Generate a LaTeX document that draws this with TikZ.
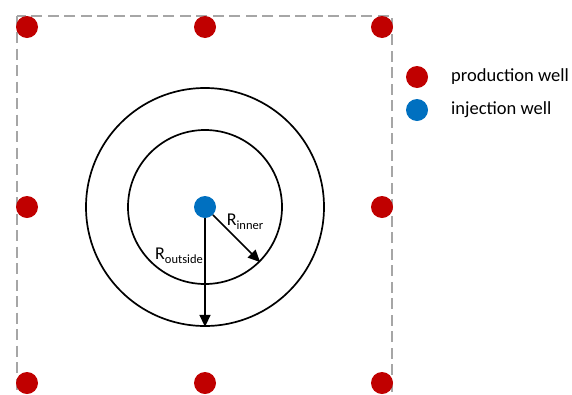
\documentclass[tikz,border=0pt]{standalone}
\usepackage{fontspec}
\setmainfont{Carlito}
\usetikzlibrary{arrows.meta}
\definecolor{prodred}{HTML}{C00000}
\definecolor{injblue}{HTML}{0070C0}
\definecolor{boundgray}{HTML}{A6A6A6}
\tikzset{
  prodwell/.style={circle, fill=prodred, inner sep=0pt, minimum size=22pt},
  injwell/.style={circle, fill=injblue, inner sep=0pt, minimum size=22pt},
  ring/.style={circle, draw=black, line width=1.7pt, inner sep=0pt},
  radius arrow/.style={line width=1.5pt, -{Triangle[length=12pt, width=11pt]}},
  legendtext/.style={anchor=west, inner sep=0pt, font=\fontsize{18.5}{20}\selectfont},
  rlabel/.style={inner sep=0pt, font=\fontsize{18}{20}\selectfont}
}
\newcommand{\subtxt}[1]{\raisebox{-4pt}{\fontsize{12.5}{13}\selectfont #1}}
\begin{document}
\begin{tikzpicture}[x=1pt, y=-1pt]
  \clip (0,0) rectangle (572,394);
  % pattern boundary
  \draw[boundgray, line width=2pt, dash pattern=on 11pt off 5.5pt] (16.5,15.5) rectangle (392,420);
  % production wells on the boundary
  \node[prodwell] (p1) at (27,27) {};
  \node[prodwell] (p2) at (205,27) {};
  \node[prodwell] (p3) at (382,27) {};
  \node[prodwell] (p4) at (27,207) {};
  \node[prodwell] (p5) at (382,207) {};
  \node[prodwell] (p6) at (27,383) {};
  \node[prodwell] (p7) at (205,383) {};
  \node[prodwell] (p8) at (382,383) {};
  % radii around the injector
  \node[ring, minimum size=238pt] (outer) at (205,207) {};
  \node[ring, minimum size=154pt] (inner) at (205,207) {};
  \node[injwell] (inj) at (205,207) {};
  \draw[radius arrow] (inj) -- (inner.south east);
  \draw[radius arrow] (inj) -- (outer.south);
  \node[rlabel] (rin) at (245,222) {R\subtxt{inner}};
  \node[rlabel] (rout) at (179,256) {R\subtxt{outside}};
  % legend
  \node[prodwell] (lp) at (417,77) {};
  \node[injwell] (li) at (417,110) {};
  \node[legendtext] (lpt) at (451,77) {production well};
  \node[legendtext] (lit) at (451,110) {injection well};
\end{tikzpicture}
\end{document}
